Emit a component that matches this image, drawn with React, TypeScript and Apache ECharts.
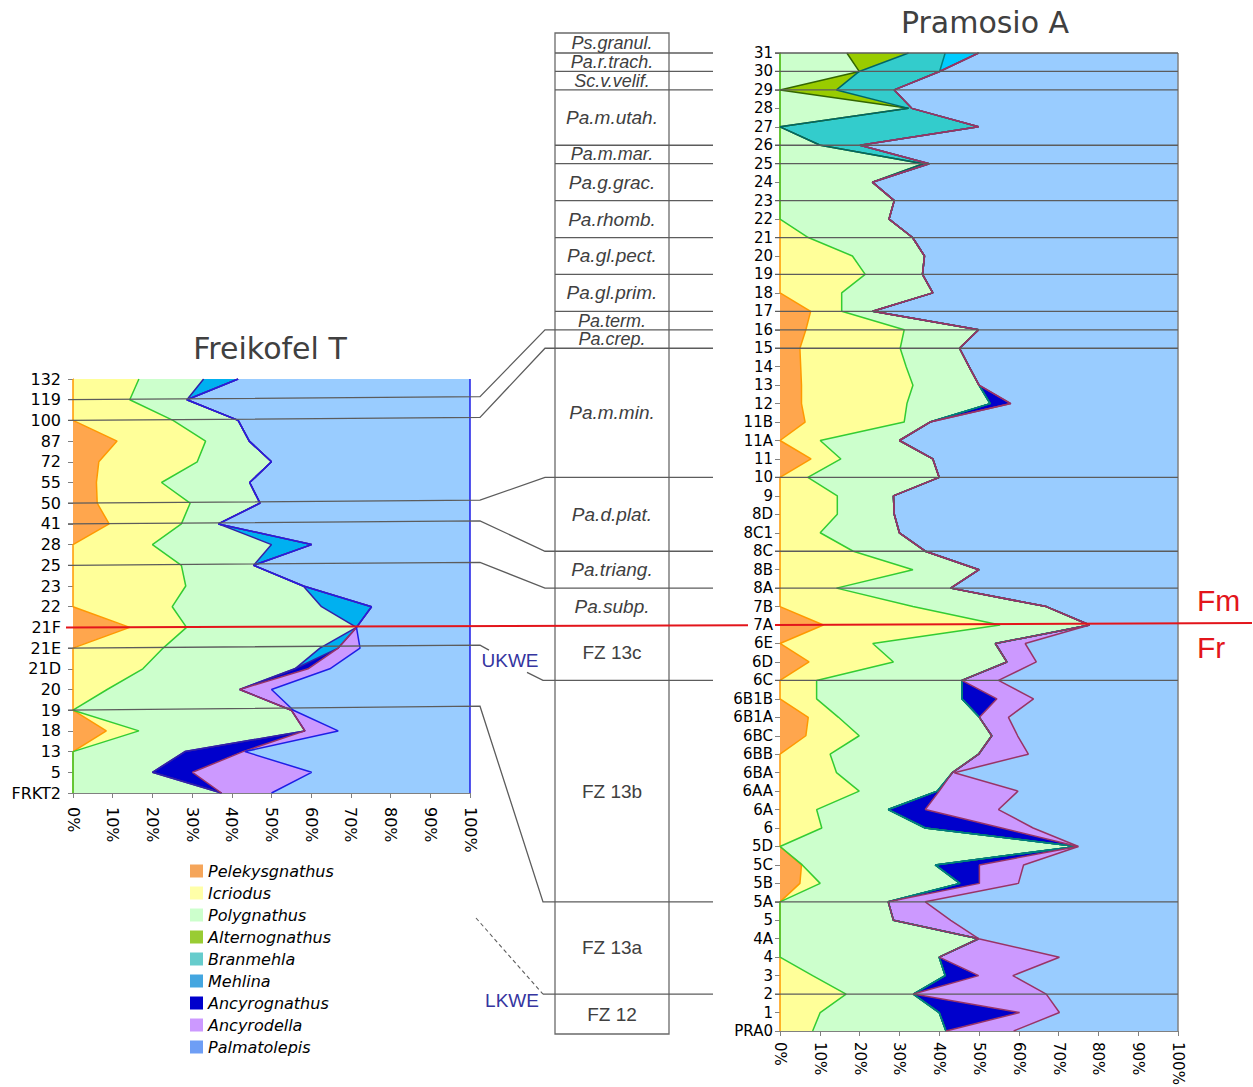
import React, { useEffect, useRef } from 'react';
import * as echarts from 'echarts';

// ---------------- DATA ----------------
// Freikofel T (top -> bottom)
const freikofelCats = ['132','119','100','87','72','55','50','41','28','25','23','22','21F','21E','21D','20','19','18','13','5','FRKT2'];
const F_Pel = [0,0,0,11.1,6.5,5.9,6.1,9.1,0,0,0,0,14.3,0,0,0,0,8.4,0,0,0];
const F_Icr = [16.6,14.3,25.2,22.3,24.8,16.4,23.4,18.2,20.0,27.3,28.4,25.0,14.3,22.7,17.6,8.6,0,8.2,0,0,0];
const F_Poly = [16.3,14.4,16.4,11.0,18.7,22.2,17.6,9.3,30.0,18.2,29.6,37.6,42.8,39.5,38.3,33.4,55.0,41.8,28.2,20.0,37.4];
const F_Meh = [8.7,0,0,0,0,0,0,0,10.1,0,0,12.6,0,4.6,0,0,0,0,0,0,0];
const F_Ancg = [0,0,0,0,0,0,0,0,0,0,0,0,0,0,3.3,0,0,0,14.6,10.1,0];
const F_Ancd = [0,0,0,0,0,0,0,0,0,0,0,0,0,5.5,5.5,8.0,0.5,8.4,0.5,30.0,12.6];
const F_Palm = [58.4,71.3,58.4,55.6,50.0,55.5,52.9,63.4,39.9,54.5,42.0,24.8,28.6,27.7,35.3,50.0,44.5,33.2,56.7,39.9,50.0];

// Pramosio A (top -> bottom)
const pramosioCats = ['31','30','29','28','27','26','25','24','23','22',
  '21','20','19','18','17','16','15','14','13','12',
  '11B','11A','11','10','9','8D','8C1','8C','8B','8A',
  '7B','7A','6E','6D','6C','6B1B','6B1A','6BC','6BB','6BA',
  '6AA','6A','6','5D','5C','5B','5A','5','4A','4',
  '3','2','1','PRA0'];
const P_Pel = [0,0,0,0,0,0,0,0,0,0,
  0,0,0,0,7.7,6.5,5.0,5.2,5.4,5.4,
  6.3,0,7.8,0,0,0,0,0,0,0,
  0,10.9,0,7.3,0,0,7.1,6.5,0,0,
  0,0,0,0,5.4,5.0,0,0,0,0,
  0,0,0,0];
const P_Icr = [0,0,0,0,0,0,0,0,0,0,
  7.1,18.2,21.4,15.5,7.8,24.7,25.2,26.5,28.0,26.5,
  24.9,10.1,7.5,7.0,14.4,14.4,10.1,18.4,33.4,14.2,
  33.4,44.4,23.3,21.2,9.2,9.2,7.6,13.4,12.6,14.2,
  19.9,9.2,10.5,0,0.2,5.1,0,0,0,0,
  8.2,16.6,10.1,8.2];
const P_Poly = [16.8,19.9,0,32.3,0,10.1,36.0,23.2,28.7,27.4,
  26.2,18.1,14.4,22.9,7.8,18.7,14.9,15.8,16.6,20.9,
  6.5,19.9,23.1,33.0,14.1,14.3,19.9,18.1,16.6,28.7,
  33.5,22.5,30.8,28.5,36.5,36.5,35.4,33.3,37.3,29.1,
  19.6,18.0,26.0,74.5,33.4,35.1,27.2,28.5,49.9,40.0,
  33.3,16.9,29.9,33.5];
const P_Alt = [15.5,0,14.2,0,0,0,0,0,0,0,
  0,0,0,0,0,0,0,0,0,0,
  0,0,0,0,0,0,0,0,0,0,
  0,0,0,0,0,0,0,0,0,0,
  0,0,0,0,0,0,0,0,0,0,
  0,0,0,0];
const P_Bran = [9.2,20.2,14.5,0.8,49.9,10.0,1.5,0,0,0,
  0,0,0,0,0,0,0,0,0,0,
  0,0,0,0,0,0,0,0,0,0,
  0,0,0,0,0,0,0,0,0,0,
  0,0,0,0,0,0,0,0,0,0,
  0,0,0,0];
const P_Meh = [8.4,0,0,0,0,0,0,0,0,0,
  0,0,0,0,0,0,0,0,0,0,
  0,0,0,0,0,0,0,0,0,0,
  0,0,0,0,0,0,0,0,0,0,
  0,0,0,0,0,0,0,0,0,0,
  0,0,0,0];
const P_Ancg = [0,0,0,0,0,0,0,0,0,0,
  0,0,0,0,0,0,0,0,0,5.2,
  0,0,0,0,0,0,0,0,0,0,
  0,0,0,0,0,8.8,0,0,0,0,
  0.5,9.3,19.2,0.3,11.1,4.9,0,0,0,0,
  8.4,0,20.2,0];
const P_Ancd = [0,0,0,0,0,0,0,0,0,0,
  0,0,0,0,0,0,0,0,0,0,
  0,0,0,0,0,0,0,0,0,0,
  0,0,7.5,7.4,9.2,9.2,7.3,6.5,12.5,0.5,
  19.8,18.4,7.9,0.2,11.1,9.8,9.3,14.4,0,30.2,
  8.6,33.4,10.0,17.0];
const P_Palm = [50.1,59.9,71.3,66.9,50.1,79.9,62.5,76.8,71.3,72.6,
  66.7,63.7,64.2,61.6,76.7,50.1,54.9,52.5,50.0,42.0,
  62.3,70.0,61.6,60.0,71.5,71.3,70.0,63.5,50.0,57.1,
  33.1,22.2,38.4,35.6,45.1,36.3,42.6,40.3,37.6,56.2,
  40.2,45.1,36.4,25.0,38.8,40.1,63.5,57.1,50.1,29.8,
  41.5,33.1,29.8,41.3];

const legendNames = ['Pelekysgnathus','Icriodus','Polygnathus','Alternognathus','Branmehla','Mehlina','Ancyrognathus','Ancyrodella','Palmatolepis'];
const legendColors = ['#F5A55A','#FFFFA8','#CCFFCC','#99CC33','#66CCCC','#44A6E0','#0000CC','#CC99FF','#6E9EF5'];

const zoneNames = ['Ps.granul.','Pa.r.trach.','Sc.v.velif.','Pa.m.utah.','Pa.m.mar.','Pa.g.grac.','Pa.rhomb.','Pa.gl.pect.','Pa.gl.prim.','Pa.term.','Pa.crep.','Pa.m.min.','Pa.d.plat.','Pa.triang.','Pa.subp.','FZ 13c','FZ 13b','FZ 13a','FZ 12'];
// lower boundary (Pramosio sample) of each zone; last zone ends at box bottom
const zoneLower = ['31','30','29','26','25','23','21','19','17','16','15','10','8C','8A','7A','6C','5A','2',''];
const plainBounds = ['31','30','29','26','25','23','21','19','17'];
const connectors = [['119','16'],['100','15'],['50','10'],['41','8C'],['25','8A']];
const plotBounds = ['31','30','29','26','25','23','21','19','17','16','15','10','8C','8A','6C','5A','2'];

// ---------------- LAYOUT ----------------
const FONT = 'DejaVu Sans';
const ARIAL = 'Liberation Sans';
const GL = { left: 73, top: 379, width: 397, height: 414 };
const GR = { left: 780, top: 53, width: 398, height: 978 };
const BOX = { x: 555, y: 33, w: 114, bottom: 1034 };
const LINE = '#5c5c5c';

function yAt(cats: string[], g: any, name: string) {
  return g.top + (cats.indexOf(name) * g.height) / (cats.length - 1);
}
const yL = (n: string) => yAt(freikofelCats, GL, n);
const yR = (n: string) => yAt(pramosioCats, GR, n);

function ln(x1: number, y1: number, x2: number, y2: number, extra: any = {}) {
  return { type: 'line', z: 100, silent: true, shape: { x1, y1, x2, y2 }, style: { stroke: LINE, lineWidth: 1.3, ...extra } };
}
function pl(points: number[][], extra: any = {}) {
  return { type: 'polyline', z: 100, silent: true, shape: { points }, style: { stroke: LINE, lineWidth: 1.3, fill: null, ...extra } };
}
function tx(text: string, x: number, y: number, o: any) {
  const align = o.align || 'center';
  return {
    type: 'text', x, y, z: 101, silent: true,
    style: {
      text, fill: o.fill || '#404040', fontSize: o.size, fontFamily: o.family || ARIAL,
      fontStyle: o.italic ? 'italic' : 'normal',
      lineHeight: o.lineHeight,
      align, verticalAlign: 'middle', textAlign: align, textVerticalAlign: 'middle',
    },
  };
}

type Spec = { name: string; data: number[]; fill: string; line: string };
function makeSeries(specs: Spec[], idx: number, stack: string) {
  return specs.map((s) => ({
    type: 'line', name: s.name, xAxisIndex: idx, yAxisIndex: idx, stack,
    data: s.data, symbol: 'none', showSymbol: false, smooth: false, silent: true,
    lineStyle: { color: s.line, width: 1.5 },
    itemStyle: { color: s.fill },
    areaStyle: { color: s.fill, opacity: 1 },
    emphasis: { disabled: true },
  }));
}

function buildOption() {
  const leftSpecs: Spec[] = [
    { name: 'Pelekysgnathus', data: F_Pel, fill: '#FFA64D', line: '#FF9900' },
    { name: 'Icriodus', data: F_Icr, fill: '#FFFF99', line: '#33CC33' },
    { name: 'Polygnathus', data: F_Poly, fill: '#CCFFCC', line: '#3320A8' },
    { name: 'Mehlina', data: F_Meh, fill: '#00B0F0', line: '#3320A8' },
    { name: 'Ancyrognathus', data: F_Ancg, fill: '#0000CC', line: '#993366' },
    { name: 'Ancyrodella', data: F_Ancd, fill: '#CC99FF', line: '#1E1EE6' },
    { name: 'Palmatolepis', data: F_Palm, fill: '#99CCFF', line: '#1E1EE6' },
  ];
  const rightSpecs: Spec[] = [
    { name: 'Pelekysgnathus', data: P_Pel, fill: '#FFA64D', line: '#FF9900' },
    { name: 'Icriodus', data: P_Icr, fill: '#FFFF99', line: '#33CC33' },
    { name: 'Polygnathus', data: P_Poly, fill: '#CCFFCC', line: '#336600' },
    { name: 'Alternognathus', data: P_Alt, fill: '#99CC00', line: '#006666' },
    { name: 'Branmehla', data: P_Bran, fill: '#33CCCC', line: '#008080' },
    { name: 'Mehlina', data: P_Meh, fill: '#00CCFF', line: '#008080' },
    { name: 'Ancyrognathus', data: P_Ancg, fill: '#0000CC', line: '#993366' },
    { name: 'Ancyrodella', data: P_Ancd, fill: '#CC99FF', line: '#993366' },
    { name: 'Palmatolepis', data: P_Palm, fill: '#99CCFF', line: '#808080' },
  ];

  const xAxisBase = (gridIndex: number, fontSize: number, margin: number) => ({
    type: 'value', gridIndex, min: 0, max: 100, interval: 10,
    splitLine: { show: false },
    axisLine: { show: true, lineStyle: { color: '#808080', width: 1 } },
    axisTick: { show: true, length: 5, lineStyle: { color: '#808080' } },
    axisLabel: { formatter: '{value}%', rotate: -90, fontSize, color: '#000', fontFamily: FONT, margin },
  });
  const yAxisBase = (gridIndex: number, cats: string[], fontSize: number, margin: number) => ({
    type: 'category', gridIndex, data: cats, inverse: true, boundaryGap: false,
    splitLine: { show: false },
    axisLine: { show: true, lineStyle: { color: '#D07A20', width: 1 } },
    axisTick: { show: true, length: 5, interval: 0, lineStyle: { color: '#808080' } },
    axisLabel: { interval: 0, fontSize, color: '#000', fontFamily: FONT, margin },
  });

  const g: any[] = [];
  // titles
  g.push(tx('Freikofel T', 270, 348, { size: 30, family: FONT, fill: '#404040' }));
  g.push(tx('Pramosio A', 985, 22, { size: 30, family: FONT, fill: '#404040' }));
  // zone box
  g.push({ type: 'rect', z: 100, silent: true, shape: { x: BOX.x, y: BOX.y, width: BOX.w, height: BOX.bottom - BOX.y }, style: { fill: 'none', stroke: '#6a6a6a', lineWidth: 1.3 } });
  // zone labels
  let top = BOX.y;
  zoneNames.forEach((name, i) => {
    const low = zoneLower[i] ? yR(zoneLower[i]) : BOX.bottom;
    const italic = !name.startsWith('FZ');
    const h = low - top;
    const size = h < 21 ? 18 : 19;
    g.push(tx(name, BOX.x + BOX.w / 2, (top + low) / 2, { size, italic, fill: '#404040', lineHeight: h < 21 ? 17 : 22 }));
    top = low;
  });
  // plain boundaries in the box
  plainBounds.forEach((b) => g.push(ln(BOX.x, yR(b), 713, yR(b))));
  // connectors from Freikofel to zone boundaries
  connectors.forEach(([lc, rc]) => {
    const a = yL(lc); const b = yR(rc);
    g.push(pl([[68, a], [480, a - 3], [545, b], [713, b]]));
  });
  // UKWE connector (21E -> 6C)
  {
    const a = yL('21E'); const b = yR('6C');
    g.push(pl([[68, a], [480, a - 3], [489, a + 2]]));
    g.push(pl([[527, b - 8], [543, b], [713, b]]));
  }
  // 19 -> 5A
  {
    const a = yL('19'); const b = yR('5A');
    g.push(pl([[68, a], [480, a - 4], [543, b], [713, b]]));
  }
  // LKWE dashed connector -> 2
  {
    const b = yR('2');
    g.push(ln(476, 918, 543, b, { lineDash: [4, 3], lineWidth: 1.1 }));
    g.push(ln(543, b, 713, b));
  }
  // boundaries across Pramosio plot
  plotBounds.forEach((b) => g.push(ln(775, yR(b), GR.left + GR.width, yR(b))));
  // red Frasnian/Famennian boundary
  {
    const a = yL('21F'); const b = yR('7A');
    g.push(pl([[66, a], [748, b + 0.3]], { stroke: '#E3151B', lineWidth: 2 }));
    g.push(pl([[775, b], [1252, b - 2]], { stroke: '#E3151B', lineWidth: 2 }));
  }
  g.push(tx('Fm', 1197, 600, { size: 30, fill: '#E3151B', align: 'left' }));
  g.push(tx('Fr', 1197, 647, { size: 30, fill: '#E3151B', align: 'left' }));
  g.push(tx('UKWE', 510, 660, { size: 19, fill: '#3535A0' }));
  g.push(tx('LKWE', 512, 1000, { size: 19, fill: '#3535A0' }));

  return {
    animation: false,
    backgroundColor: '#ffffff',
    textStyle: { fontFamily: FONT },
    grid: [
      { left: GL.left, top: GL.top, width: GL.width, height: GL.height, containLabel: false, outerBoundsMode: 'none' },
      { left: GR.left, top: GR.top, width: GR.width, height: GR.height, containLabel: false, outerBoundsMode: 'none' },
    ],
    xAxis: [xAxisBase(0, 16, 14), xAxisBase(1, 15, 11)],
    yAxis: [yAxisBase(0, freikofelCats, 16, 12), yAxisBase(1, pramosioCats, 15, 7)],
    legend: {
      orient: 'vertical', left: 190, top: 863, padding: 0, itemWidth: 13, itemHeight: 13, itemGap: 6,
      icon: 'rect', selectedMode: false,
      textStyle: { fontSize: 16, fontStyle: 'italic', fontFamily: FONT, color: '#000', lineHeight: 15 },
      data: legendNames.map((n, i) => ({ name: n, itemStyle: { color: legendColors[i], borderWidth: 0 } })),
    },
    series: [...makeSeries(leftSpecs, 0, 'freikofel'), ...makeSeries(rightSpecs, 1, 'pramosio')],
    graphic: { elements: g },
  };
}

export default function App() {
  const ref = useRef<HTMLDivElement>(null);
  useEffect(() => {
    if (!ref.current) return;
    const chart = echarts.init(ref.current, null, { renderer: 'svg' });
    chart.setOption(buildOption() as any);
    return () => chart.dispose();
  }, []);
  return (
    <div
      ref={ref}
      style={{ position: 'absolute', left: 0, top: 0, width: 1253, height: 1087, background: '#fff' }}
    />
  );
}
